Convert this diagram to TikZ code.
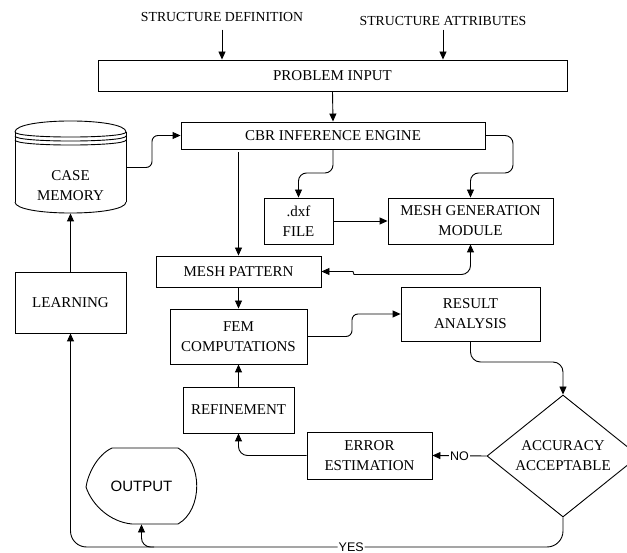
\documentclass[tikz,border=0pt]{standalone}
\usepackage{fontspec}
\setmainfont{Liberation Serif}
\newfontfamily\sansf{Liberation Sans}
\usetikzlibrary{arrows.meta,shapes.geometric}
\begin{document}
\begin{tikzpicture}[x=1pt,y=-1pt, line width=0.9pt,
  box/.style={draw, rectangle, inner sep=0pt, align=center, font=\fontsize{15}{20}\selectfont},
  ghost/.style={rectangle, inner sep=0pt},
  toplbl/.style={font=\fontsize{13.8}{16}\selectfont, inner sep=3pt},
  arr/.style={-{Triangle[length=8pt,width=7pt]}},
  darr/.style={{Triangle[length=8pt,width=7pt]}-{Triangle[length=8pt,width=7pt]}},
  lbl/.style={font=\sansf\fontsize{12.5}{14}\selectfont, fill=white, inner sep=1pt}]
\clip (0,0) rectangle (627,553);
\fill[white] (0,0) rectangle (627,553);

% top labels
\node[toplbl] (sd) at (222,17) {STRUCTURE DEFINITION};
\node[toplbl] (sa) at (443,21) {STRUCTURE ATTRIBUTES};

% boxes
\node[box, minimum width=469pt, minimum height=31pt] (pi) at (332.5,75.5) {PROBLEM INPUT};
\node[box, minimum width=304pt, minimum height=27pt] (cbr) at (333,135.5) {CBR INFERENCE ENGINE};
\node[box, minimum width=69pt, minimum height=46pt] (dxf) at (298.5,221) {.dxf\\FILE};
\node[box, minimum width=165pt, minimum height=46pt] (mg) at (470.5,221) {MESH GENERATION\\MODULE};
\node[box, minimum width=165pt, minimum height=31pt] (mp) at (238.5,271.5) {MESH PATTERN};
\node[box, minimum width=111pt, minimum height=61pt] (learn) at (70.5,302.5) {LEARNING};
\node[box, minimum width=137pt, minimum height=55pt] (fem) at (238.5,336.5) {FEM\\COMPUTATIONS};
\node[box, minimum width=139pt, minimum height=54pt] (res) at (470.5,314) {RESULT\\ANALYSIS};
\node[box, minimum width=111pt, minimum height=46pt] (ref) at (238.5,410) {REFINEMENT};
\node[box, minimum width=125pt, minimum height=47pt] (err) at (369.5,455.5) {ERROR\\ESTIMATION};
\node[box, diamond, aspect=1.246, minimum width=152pt, minimum height=122pt] (acc) at (563,456) {ACCURACY\\ACCEPTABLE};

% case memory cylinder
\node[ghost, minimum width=111pt, minimum height=91pt] (cm) at (70.5,167.5) {};
\draw (15,132) .. controls (15,117.3) and (126,117.3) .. (126,132);
\draw (15,132) .. controls (15,138.7) and (126,138.7) .. (126,132);
\draw (15,136) .. controls (15,142.7) and (126,142.7) .. (126,136);
\draw (15,140) .. controls (15,146.7) and (126,146.7) .. (126,140);
\draw (15,132) -- (15,202);
\draw (126,132) -- (126,202);
\draw (15,202) .. controls (15,216.7) and (126,216.7) .. (126,202);
\node[align=center, font=\fontsize{15}{20}\selectfont] (cmt) at (70.5,186) {CASE\\MEMORY};

% output display shape
\node[ghost, minimum width=111pt, minimum height=76pt] (out) at (141.5,486) {};
\draw (178,448) -- (112,448) .. controls (97,455) and (88,474) .. (86,487)
      .. controls (92,505) and (110,522) .. (132,524) -- (178,524)
      .. controls (203,510) and (203,462) .. (178,448) -- cycle;
\node[font=\sansf\fontsize{15}{18}\selectfont] (outt) at (141.5,486) {OUTPUT};

% connectors
\draw[arr] (sd.south) ++(0,4.5) -- (pi.north -| sd.south);
\draw[arr] (sa.south) ++(0,0.5) -- (pi.north -| sa.south);
\draw[arr] (pi.south) -- (cbr.north);
\draw[arr, rounded corners=6pt] (cm.east) -- (152,167.5) -- (152,135.5) -- (cbr.west);
\draw[arr, shorten <=3pt] (mp.north |- cbr.south) -- (mp.north);
\draw[arr, rounded corners=8pt] (cbr.south) -- (333,173) -- (298.5,173) -- (dxf.north);
\draw[arr, rounded corners=8pt] (cbr.east) -- (513,135.5) -- (513,173) -- (470.5,173) -- (mg.north);
\draw[arr] (dxf.east) -- (mg.west);
\draw[darr] (mp.east) -- (353,271.5) -- (354,274.5) [rounded corners=9pt] -- (470.5,274.5) -- (mg.south);
\draw[arr] (mp.south) -- (fem.north);
\draw[arr, rounded corners=6pt] (fem.east) -- (352,336.5) -- (352,314) -- (res.west);
\draw[arr, rounded corners=10pt] (res.south) -- (470.5,362) -- (563,362) -- (acc.north);
\draw[arr] (acc.west) -- (err.east) node[lbl, midway] {NO};
\draw[arr, rounded corners=9pt] (err.west) -- (238.5,455.5) -- (ref.south);
\draw[arr] (ref.north) -- (fem.south);
\draw[arr, rounded corners=16pt] (acc.south) -- (563,547) -- (70.5,547) node[lbl, pos=0.43] {YES} -- (learn.south);
\coordinate (br) at (154,547);
\draw[arr, rounded corners=9pt] (br) -- (141.5,547) -- (out.south);
\draw[arr] (learn.north) -- (cm.south);
\end{tikzpicture}
\end{document}
